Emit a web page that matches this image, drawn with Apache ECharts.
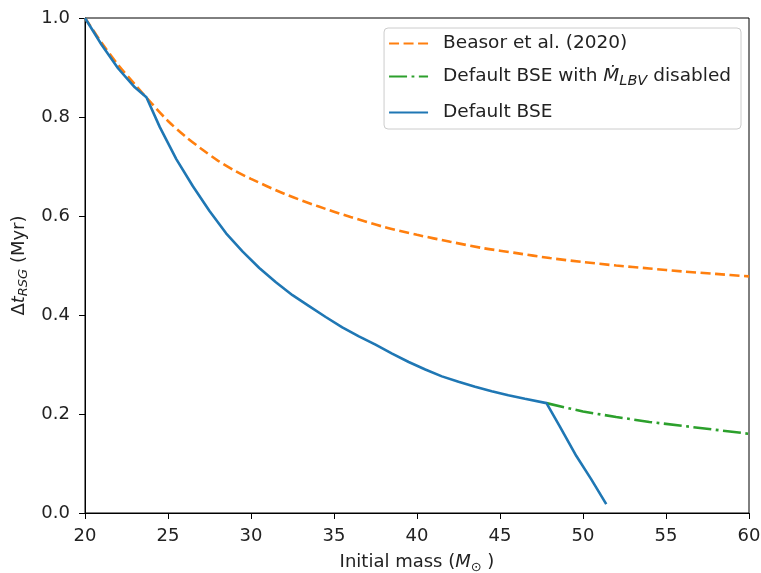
<!DOCTYPE html>
<html>
<head>
<meta charset="utf-8">
<script src="https://cdn.jsdelivr.net/npm/echarts@6/dist/echarts.min.js"></script>
<style>html,body{margin:0;padding:0;background:#fff}#c{width:761px;height:573px}</style>
</head>
<body>
<div id="c"></div>
<script>
// Beasor et al. (2020)
const beasorMass = [20,21,22,23,24,25,26,27,28,29,30,32,34,36,38,40,42,44,46,48,50,52,54,56,58,60];
const beasorDt   = [1.000,0.950,0.905,0.866,0.828,0.792,0.762,0.736,0.712,0.692,0.675,0.645,0.620,0.598,0.578,0.562,0.548,0.535,0.525,0.515,0.507,0.500,0.494,0.488,0.483,0.478];
// Default BSE with LBV disabled
const noLbvMass = [47.8,50,52,54,56,58,60];
const noLbvDt   = [0.222,0.205,0.194,0.184,0.176,0.168,0.160];
// Default BSE
const bseMass = [20,21,22,23,23.7,24.5,25.5,26.5,27.5,28.5,29.5,30.5,31.5,32.5,33.5,34.5,35.5,36.5,37.5,38.5,39.5,40.5,41.5,42.5,43.5,44.5,45.5,46.5,47.8,48.6,49.6,50.5,51.4];
const bseDt   = [1.000,0.946,0.898,0.860,0.840,0.780,0.715,0.660,0.610,0.565,0.528,0.495,0.466,0.440,0.418,0.396,0.375,0.357,0.340,0.322,0.305,0.290,0.276,0.265,0.255,0.246,0.238,0.231,0.222,0.175,0.115,0.068,0.018];
const xTicks = [20,25,30,35,40,45,50,55,60];
const yTicks = [0.0,0.2,0.4,0.6,0.8,1.0];

const zip = (a,b) => a.map((v,i)=>[v,b[i]]);
const FONT = 'DejaVu Sans';
const FS = 18;
const LFS = 18.5;
const TXT = '#222';
const chart = echarts.init(document.getElementById('c'), null, {renderer:'canvas'});
chart.setOption({
  animation:false,
  backgroundColor:'#fff',
  textStyle:{fontFamily:FONT, color:TXT},
  grid:{left:85, right:12, top:18, bottom:60, containLabel:false, outerBoundsMode:'none',
        show:true, borderColor:'#000', borderWidth:1, backgroundColor:'transparent'},
  legend:{
    orient:'vertical', right:20, top:28, padding:[6,10,7,4], itemGap:14,
    itemWidth:39, itemHeight:20,
    itemStyle:{color:'rgba(0,0,0,0)', borderWidth:0, opacity:0},
    backgroundColor:'rgba(255,255,255,0.8)', borderColor:'#ccc', borderWidth:1, borderRadius:4,
    textStyle:{fontFamily:FONT, fontSize:LFS, color:TXT, padding:[0,0,0,10],
      rich:{i:{fontFamily:FONT, fontSize:LFS, fontStyle:'italic', color:TXT}, s:{fontFamily:FONT, fontSize:14.5, fontStyle:'italic', color:TXT, padding:[10,0,0,0]}}},
    formatter: n => n==='noLbv' ? 'Default BSE with {i|Ṁ}{s|LBV} disabled' : n,
    data:['Beasor et al. (2020)','noLbv','Default BSE']
  },
  xAxis:{
    type:'value', min:xTicks[0], max:xTicks[xTicks.length-1], interval:5,
    name:'{n|Initial mass (}{i|M}{s|⊙}{n| )}', nameLocation:'middle', nameGap:38,
    nameTextStyle:{rich:{n:{fontFamily:FONT,fontSize:FS,color:TXT},i:{fontFamily:FONT,fontSize:FS,fontStyle:'italic',color:TXT},s:{fontFamily:FONT,fontSize:13,color:TXT,padding:[10,0,0,0]}}},
    axisLine:{show:true, onZero:false, lineStyle:{color:'#000', width:1}},
    axisTick:{show:true, inside:false, length:6, lineStyle:{color:'#000'}},
    axisLabel:{fontFamily:FONT, fontSize:FS, color:TXT, margin:14},
    splitLine:{show:false}
  },
  yAxis:{
    type:'value', min:yTicks[0], max:yTicks[yTicks.length-1], interval:0.2,
    name:'{n|Δ}{i|t}{s|RSG}{n| (Myr)}', nameLocation:'middle', nameGap:52, nameRotate:90,
    nameTextStyle:{rich:{n:{fontFamily:FONT,fontSize:FS,color:TXT},i:{fontFamily:FONT,fontSize:FS,fontStyle:'italic',color:TXT},s:{fontFamily:FONT,fontSize:13,fontStyle:'italic',color:TXT,padding:[10,0,0,0]}}},
    axisLine:{show:true, onZero:false, lineStyle:{color:'#000', width:1}},
    axisTick:{show:true, inside:false, length:6, lineStyle:{color:'#000'}},
    axisLabel:{fontFamily:FONT, fontSize:FS, color:TXT, margin:15, formatter:v=>v.toFixed(1)},
    splitLine:{show:false}
  },
  series:[
    {name:'Beasor et al. (2020)', type:'line', data:zip(beasorMass,beasorDt), symbol:'none', smooth:0.3, z:2,
     lineStyle:{color:'#ff7f0e', width:2.6, type:[10,4.5]}, itemStyle:{color:'#ff7f0e'}},
    {name:'noLbv', type:'line', data:zip(noLbvMass,noLbvDt), symbol:'none', z:3,
     lineStyle:{color:'#2ca02c', width:2.6, type:[18,4.5,2.8,4.5]}, itemStyle:{color:'#2ca02c'}},
    {name:'Default BSE', type:'line', data:zip(bseMass,bseDt), symbol:'none', z:4,
     lineStyle:{color:'#1f77b4', width:2.6}, itemStyle:{color:'#1f77b4'}}
  ]
});
</script>
</body>
</html>
